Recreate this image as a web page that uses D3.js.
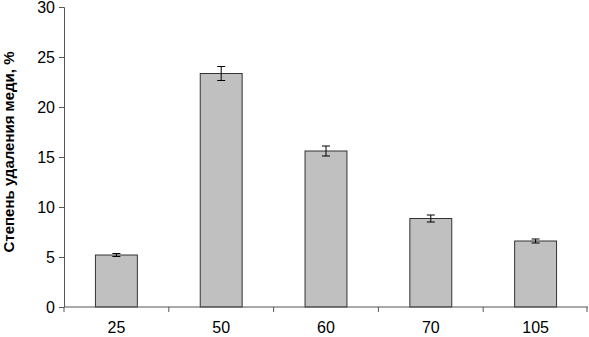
<!DOCTYPE html>
<html>
<head>
<meta charset="utf-8">
<script src="https://cdn.jsdelivr.net/npm/d3@7"></script>
<style>
  body { margin: 0; background: #fff; }
  svg { display: block; font-family: Arial, "Liberation Sans", sans-serif; }
</style>
</head>
<body>
<svg id="chart"></svg>
<script>
// Chart data
const categories = ["25", "50", "60", "70", "105"];
const values = [5.2, 23.35, 15.6, 8.85, 6.6];
const errors = [0.15, 0.7, 0.5, 0.35, 0.2];
const yTicks = [0, 5, 10, 15, 20, 25, 30];

const width = 589;
const height = 337;
const margin = { top: 7, right: 1, bottom: 30, left: 64 };

const svg = d3.select("#chart")
  .attr("width", width)
  .attr("height", height);

const x = d3.scaleBand()
  .domain(categories)
  .range([margin.left, width - margin.right])
  .paddingInner(0.6)
  .paddingOuter(0.3);

// band edges for the category tick marks
const step = (width - margin.right - margin.left) / categories.length;

const y = d3.scaleLinear()
  .domain([0, 30])
  .range([height - margin.bottom, margin.top]);

// Bars
svg.append("g")
  .selectAll("rect")
  .data(values)
  .enter()
  .append("rect")
  .attr("x", (d, i) => x(categories[i]))
  .attr("y", d => y(d))
  .attr("width", x.bandwidth())
  .attr("height", d => y(0) - y(d))
  .attr("fill", "#c0c0c0")
  .attr("stroke", "#333")
  .attr("stroke-width", 1);

// Error bars
const eb = svg.append("g")
  .attr("stroke", "#000")
  .attr("stroke-width", 1)
  .selectAll("g")
  .data(values)
  .enter()
  .append("g")
  .attr("transform", (d, i) => `translate(${x(categories[i]) + x.bandwidth() / 2},0)`);

eb.append("line")
  .attr("y1", (d, i) => y(d + errors[i]))
  .attr("y2", (d, i) => y(d - errors[i]));
eb.append("line")
  .attr("x1", -4).attr("x2", 4)
  .attr("y1", (d, i) => y(d + errors[i]))
  .attr("y2", (d, i) => y(d + errors[i]));
eb.append("line")
  .attr("x1", -4).attr("x2", 4)
  .attr("y1", (d, i) => y(d - errors[i]))
  .attr("y2", (d, i) => y(d - errors[i]));

// Y axis
const yAxis = svg.append("g")
  .attr("transform", `translate(${margin.left},0)`)
  .call(d3.axisLeft(y).tickValues(yTicks).tickSize(5).tickPadding(4));
yAxis.selectAll("path, line").attr("stroke", "#555");
yAxis.selectAll("text").style("font-size", "16px").attr("fill", "#000");
yAxis.select(".domain").attr("d", `M-5,${y(30) + 0.5}H0.5V${y(0)}`);

// X axis
const xAxisG = svg.append("g")
  .attr("transform", `translate(0,${y(0)})`);
xAxisG.append("line")
  .attr("x1", margin.left).attr("x2", width - margin.right)
  .attr("stroke", "#555");
xAxisG.selectAll(".tick-mark")
  .data(d3.range(categories.length + 1))
  .enter()
  .append("line")
  .attr("x1", i => margin.left + i * step - (i === categories.length ? 1 : 0))
  .attr("x2", i => margin.left + i * step - (i === categories.length ? 1 : 0))
  .attr("y1", 0).attr("y2", 5)
  .attr("stroke", "#555");
xAxisG.selectAll("text")
  .data(categories)
  .enter()
  .append("text")
  .attr("x", d => x(d) + x.bandwidth() / 2)
  .attr("y", 26)
  .attr("text-anchor", "middle")
  .style("font-size", "16px")
  .text(d => d);

// Y axis title
svg.append("text")
  .attr("transform", `translate(14,152) rotate(-90)`)
  .attr("text-anchor", "middle")
  .style("font-size", "15px")
  .style("font-weight", "bold")
  .text("Степень удаления меди, %");
</script>
</body>
</html>
